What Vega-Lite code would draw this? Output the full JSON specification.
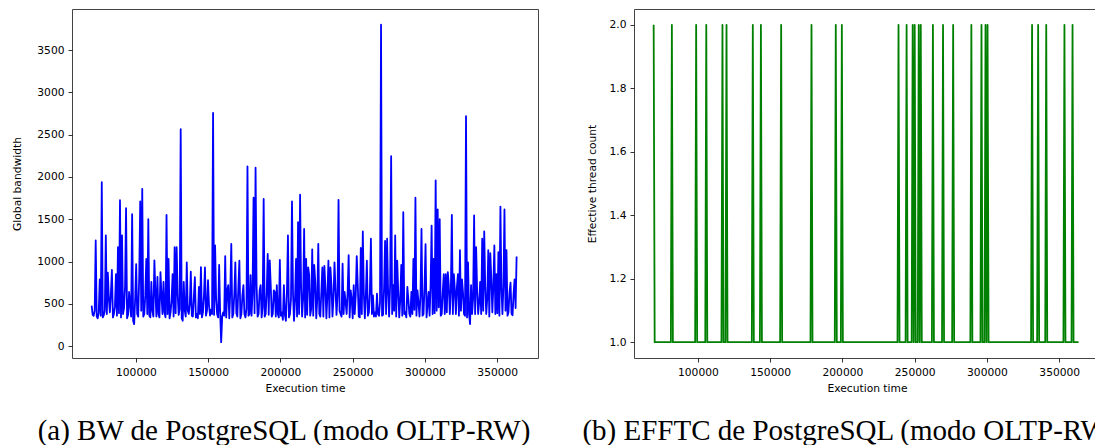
{
"$schema": "https://vega.github.io/schema/vega-lite/v6.json",
"padding": {"left": 11, "top": 8, "right": 0, "bottom": 0},
"config": {
  "view": {"stroke": "#444", "strokeWidth": 1},
  "axis": {"grid": false, "domain": false, "tickColor": "#000", "tickSize": 4, "tickWidth": 0.8, "labelFont": "DejaVu Sans", "labelFontSize": 10.7, "labelColor": "#000", "titleFont": "DejaVu Sans", "titleFontSize": 10.7, "titleFontWeight": "normal", "titleColor": "#000", "labelPadding": 4, "labelFlush": false, "labelOverlap": false},
  "title": {"font": "Liberation Serif", "fontSize": 29, "fontWeight": "normal", "color": "#000"}
},
"data": {"values": [
{"t":69400,"bw":480,"e":2},{"t":70100,"bw":370,"e":1},{"t":70800,"bw":360,"e":1},{"t":71500,"bw":420,"e":1},
{"t":72200,"bw":1250,"e":1},{"t":72900,"bw":350,"e":1},{"t":73600,"bw":330,"e":1},{"t":74300,"bw":400,"e":1},
{"t":75000,"bw":790,"e":1},{"t":75700,"bw":360,"e":1},{"t":76400,"bw":1937,"e":1},{"t":77100,"bw":340,"e":1},
{"t":77800,"bw":366,"e":1},{"t":78500,"bw":420,"e":1},{"t":79200,"bw":1310,"e":1},{"t":79900,"bw":380,"e":1},
{"t":80600,"bw":870,"e":1},{"t":81300,"bw":560,"e":1},{"t":82000,"bw":400,"e":2},{"t":82700,"bw":620,"e":1},
{"t":83400,"bw":900,"e":1},{"t":84100,"bw":340,"e":1},{"t":84800,"bw":380,"e":1},{"t":85500,"bw":470,"e":1},
{"t":86200,"bw":850,"e":1},{"t":86900,"bw":360,"e":1},{"t":87600,"bw":1170,"e":1},{"t":88300,"bw":390,"e":1},
{"t":89000,"bw":1725,"e":1},{"t":89700,"bw":340,"e":1},{"t":90400,"bw":1310,"e":1},{"t":91100,"bw":380,"e":1},
{"t":91800,"bw":450,"e":1},{"t":92500,"bw":700,"e":1},{"t":93200,"bw":1630,"e":1},{"t":93900,"bw":330,"e":1},
{"t":94600,"bw":370,"e":1},{"t":95300,"bw":640,"e":1},{"t":96000,"bw":480,"e":1},{"t":96700,"bw":350,"e":1},
{"t":97400,"bw":1560,"e":1},{"t":98100,"bw":300,"e":1},{"t":98800,"bw":260,"e":2},{"t":99500,"bw":560,"e":1},
{"t":100200,"bw":970,"e":1},{"t":100900,"bw":380,"e":1},{"t":101600,"bw":350,"e":1},{"t":102300,"bw":820,"e":1},
{"t":103000,"bw":1710,"e":1},{"t":103700,"bw":420,"e":1},{"t":104400,"bw":1860,"e":1},{"t":105100,"bw":350,"e":1},
{"t":105800,"bw":380,"e":2},{"t":106500,"bw":600,"e":1},{"t":107200,"bw":1030,"e":1},{"t":107900,"bw":380,"e":1},
{"t":108600,"bw":1500,"e":1},{"t":109300,"bw":360,"e":1},{"t":110000,"bw":340,"e":1},{"t":110700,"bw":760,"e":1},
{"t":111400,"bw":420,"e":1},{"t":112100,"bw":350,"e":1},{"t":112800,"bw":1015,"e":1},{"t":113500,"bw":640,"e":1},
{"t":114200,"bw":350,"e":1},{"t":114900,"bw":820,"e":1},{"t":115600,"bw":380,"e":1},{"t":116300,"bw":340,"e":1},
{"t":117000,"bw":875,"e":2},{"t":117700,"bw":600,"e":1},{"t":118400,"bw":380,"e":1},{"t":119100,"bw":760,"e":1},
{"t":119800,"bw":400,"e":2},{"t":120500,"bw":340,"e":1},{"t":121200,"bw":1550,"e":1},{"t":121900,"bw":380,"e":1},
{"t":122600,"bw":1030,"e":1},{"t":123300,"bw":330,"e":1},{"t":124000,"bw":400,"e":1},{"t":124700,"bw":540,"e":1},
{"t":125400,"bw":850,"e":1},{"t":126100,"bw":350,"e":1},{"t":126800,"bw":1170,"e":1},{"t":127500,"bw":390,"e":1},
{"t":128200,"bw":1170,"e":1},{"t":128900,"bw":620,"e":1},{"t":129600,"bw":370,"e":1},{"t":130300,"bw":440,"e":1},
{"t":131000,"bw":2565,"e":1},{"t":131700,"bw":330,"e":1},{"t":132400,"bw":300,"e":1},{"t":133100,"bw":760,"e":1},
{"t":133800,"bw":420,"e":1},{"t":134500,"bw":350,"e":1},{"t":135200,"bw":990,"e":1},{"t":135900,"bw":420,"e":1},
{"t":136600,"bw":380,"e":1},{"t":137300,"bw":500,"e":1},{"t":138000,"bw":880,"e":2},{"t":138700,"bw":360,"e":1},
{"t":139400,"bw":350,"e":1},{"t":140100,"bw":580,"e":1},{"t":140800,"bw":815,"e":1},{"t":141500,"bw":340,"e":1},
{"t":142200,"bw":380,"e":1},{"t":142900,"bw":330,"e":1},{"t":143600,"bw":700,"e":2},{"t":144300,"bw":380,"e":1},
{"t":145000,"bw":934,"e":1},{"t":145700,"bw":340,"e":1},{"t":146400,"bw":400,"e":1},{"t":147100,"bw":600,"e":1},
{"t":147800,"bw":930,"e":1},{"t":148500,"bw":360,"e":1},{"t":149200,"bw":420,"e":1},{"t":149900,"bw":780,"e":1},
{"t":150600,"bw":480,"e":1},{"t":151300,"bw":360,"e":1},{"t":152000,"bw":430,"e":1},{"t":152700,"bw":380,"e":1},
{"t":153400,"bw":2758,"e":1},{"t":154100,"bw":370,"e":1},{"t":154800,"bw":1190,"e":1},{"t":155500,"bw":560,"e":1},
{"t":156200,"bw":380,"e":1},{"t":156900,"bw":340,"e":1},{"t":157600,"bw":960,"e":2},{"t":158300,"bw":400,"e":1},
{"t":159000,"bw":47,"e":1},{"t":159700,"bw":350,"e":1},{"t":160400,"bw":400,"e":1},{"t":161100,"bw":360,"e":1},
{"t":161800,"bw":1065,"e":1},{"t":162500,"bw":340,"e":1},{"t":163200,"bw":660,"e":1},{"t":163900,"bw":720,"e":1},
{"t":164600,"bw":330,"e":1},{"t":165300,"bw":640,"e":1},{"t":166000,"bw":1210,"e":1},{"t":166700,"bw":340,"e":1},
{"t":167400,"bw":380,"e":1},{"t":168100,"bw":620,"e":1},{"t":168800,"bw":990,"e":1},{"t":169500,"bw":390,"e":1},
{"t":170200,"bw":350,"e":1},{"t":170900,"bw":700,"e":1},{"t":171600,"bw":1010,"e":1},{"t":172300,"bw":330,"e":1},
{"t":173000,"bw":380,"e":1},{"t":173700,"bw":600,"e":1},{"t":174400,"bw":720,"e":1},{"t":175100,"bw":380,"e":1},
{"t":175800,"bw":340,"e":1},{"t":176500,"bw":440,"e":1},{"t":177200,"bw":2125,"e":1},{"t":177900,"bw":360,"e":1},
{"t":178600,"bw":380,"e":2},{"t":179300,"bw":840,"e":1},{"t":180000,"bw":360,"e":1},{"t":180700,"bw":620,"e":1},
{"t":181400,"bw":1755,"e":1},{"t":182100,"bw":390,"e":1},{"t":182800,"bw":2110,"e":1},{"t":183500,"bw":720,"e":1},
{"t":184200,"bw":350,"e":1},{"t":184900,"bw":380,"e":1},{"t":185600,"bw":660,"e":1},{"t":186300,"bw":720,"e":1},
{"t":187000,"bw":340,"e":1},{"t":187700,"bw":460,"e":1},{"t":188400,"bw":1740,"e":1},{"t":189100,"bw":350,"e":1},
{"t":189800,"bw":380,"e":1},{"t":190500,"bw":640,"e":1},{"t":191200,"bw":1090,"e":1},{"t":191900,"bw":370,"e":1},
{"t":192600,"bw":1015,"e":1},{"t":193300,"bw":720,"e":1},{"t":194000,"bw":350,"e":1},{"t":194700,"bw":380,"e":1},
{"t":195400,"bw":660,"e":2},{"t":196100,"bw":640,"e":1},{"t":196800,"bw":350,"e":1},{"t":197500,"bw":720,"e":1},
{"t":198200,"bw":380,"e":1},{"t":198900,"bw":340,"e":1},{"t":199600,"bw":1020,"e":2},{"t":200300,"bw":360,"e":1},
{"t":201000,"bw":400,"e":1},{"t":201700,"bw":310,"e":1},{"t":202400,"bw":720,"e":1},{"t":203100,"bw":370,"e":1},
{"t":203800,"bw":300,"e":1},{"t":204500,"bw":640,"e":1},{"t":205200,"bw":1310,"e":1},{"t":205900,"bw":340,"e":1},
{"t":206600,"bw":380,"e":1},{"t":207300,"bw":560,"e":1},{"t":208000,"bw":1710,"e":1},{"t":208700,"bw":620,"e":1},
{"t":209400,"bw":300,"e":1},{"t":210100,"bw":560,"e":1},{"t":210800,"bw":1030,"e":1},{"t":211500,"bw":350,"e":1},
{"t":212200,"bw":1465,"e":1},{"t":212900,"bw":380,"e":1},{"t":213600,"bw":1790,"e":1},{"t":214300,"bw":690,"e":1},
{"t":215000,"bw":350,"e":1},{"t":215700,"bw":560,"e":1},{"t":216400,"bw":1385,"e":1},{"t":217100,"bw":340,"e":1},
{"t":217800,"bw":1030,"e":1},{"t":218500,"bw":370,"e":1},{"t":219200,"bw":930,"e":1},{"t":219900,"bw":840,"e":1},
{"t":220600,"bw":360,"e":1},{"t":221300,"bw":440,"e":1},{"t":222000,"bw":1145,"e":1},{"t":222700,"bw":360,"e":1},
{"t":223400,"bw":960,"e":1},{"t":224100,"bw":760,"e":1},{"t":224800,"bw":330,"e":1},{"t":225500,"bw":560,"e":1},
{"t":226200,"bw":1210,"e":1},{"t":226900,"bw":380,"e":1},{"t":227600,"bw":350,"e":1},{"t":228300,"bw":640,"e":1},
{"t":229000,"bw":930,"e":1},{"t":229700,"bw":350,"e":1},{"t":230400,"bw":950,"e":1},{"t":231100,"bw":700,"e":1},
{"t":231800,"bw":330,"e":1},{"t":232500,"bw":600,"e":1},{"t":233200,"bw":1010,"e":1},{"t":233900,"bw":340,"e":1},
{"t":234600,"bw":930,"e":1},{"t":235300,"bw":720,"e":1},{"t":236000,"bw":350,"e":1},{"t":236700,"bw":560,"e":1},
{"t":237400,"bw":990,"e":1},{"t":238100,"bw":680,"e":1},{"t":238800,"bw":370,"e":2},{"t":239500,"bw":600,"e":1},
{"t":240200,"bw":1730,"e":1},{"t":240900,"bw":420,"e":1},{"t":241600,"bw":380,"e":1},{"t":242300,"bw":350,"e":1},
{"t":243000,"bw":975,"e":1},{"t":243700,"bw":380,"e":1},{"t":244400,"bw":640,"e":2},{"t":245100,"bw":520,"e":1},
{"t":245800,"bw":380,"e":1},{"t":246500,"bw":640,"e":1},{"t":247200,"bw":1075,"e":1},{"t":247900,"bw":340,"e":1},
{"t":248600,"bw":660,"e":2},{"t":249300,"bw":560,"e":1},{"t":250000,"bw":330,"e":2},{"t":250700,"bw":720,"e":1},
{"t":251400,"bw":380,"e":1},{"t":252100,"bw":600,"e":1},{"t":252800,"bw":1065,"e":2},{"t":253500,"bw":720,"e":1},
{"t":254200,"bw":350,"e":2},{"t":254900,"bw":340,"e":1},{"t":255600,"bw":1160,"e":1},{"t":256300,"bw":380,"e":1},
{"t":257000,"bw":1355,"e":1},{"t":257700,"bw":620,"e":1},{"t":258400,"bw":330,"e":1},{"t":259100,"bw":600,"e":1},
{"t":259800,"bw":1010,"e":1},{"t":260500,"bw":360,"e":1},{"t":261200,"bw":400,"e":1},{"t":261900,"bw":640,"e":1},
{"t":262600,"bw":1270,"e":2},{"t":263300,"bw":380,"e":1},{"t":264000,"bw":600,"e":1},{"t":264700,"bw":350,"e":1},
{"t":265400,"bw":400,"e":1},{"t":266100,"bw":350,"e":1},{"t":266800,"bw":620,"e":1},{"t":267500,"bw":380,"e":1},
{"t":268200,"bw":360,"e":1},{"t":268900,"bw":520,"e":1},{"t":269600,"bw":3800,"e":2},{"t":270300,"bw":360,"e":1},
{"t":271000,"bw":370,"e":1},{"t":271700,"bw":680,"e":1},{"t":272400,"bw":1245,"e":1},{"t":273100,"bw":380,"e":1},
{"t":273800,"bw":1270,"e":1},{"t":274500,"bw":640,"e":1},{"t":275200,"bw":350,"e":1},{"t":275900,"bw":720,"e":1},
{"t":276600,"bw":2245,"e":2},{"t":277300,"bw":380,"e":1},{"t":278000,"bw":720,"e":1},{"t":278700,"bw":420,"e":1},
{"t":279400,"bw":1310,"e":1},{"t":280100,"bw":350,"e":1},{"t":280800,"bw":1010,"e":1},{"t":281500,"bw":640,"e":1},
{"t":282200,"bw":340,"e":1},{"t":282900,"bw":550,"e":1},{"t":283600,"bw":960,"e":1},{"t":284300,"bw":360,"e":1},
{"t":285000,"bw":1585,"e":1},{"t":285700,"bw":380,"e":1},{"t":286400,"bw":400,"e":1},{"t":287100,"bw":340,"e":1},
{"t":287800,"bw":700,"e":1},{"t":288500,"bw":560,"e":1},{"t":289200,"bw":380,"e":2},{"t":289900,"bw":350,"e":1},
{"t":290600,"bw":640,"e":1},{"t":291300,"bw":380,"e":1},{"t":292000,"bw":1030,"e":1},{"t":292700,"bw":430,"e":1},
{"t":293400,"bw":1755,"e":1},{"t":294100,"bw":360,"e":1},{"t":294800,"bw":660,"e":1},{"t":295500,"bw":520,"e":1},
{"t":296200,"bw":350,"e":2},{"t":296900,"bw":600,"e":1},{"t":297600,"bw":1385,"e":1},{"t":298300,"bw":360,"e":1},
{"t":299000,"bw":380,"e":2},{"t":299700,"bw":700,"e":1},{"t":300400,"bw":1205,"e":2},{"t":301100,"bw":340,"e":1},
{"t":301800,"bw":490,"e":1},{"t":302500,"bw":640,"e":1},{"t":303200,"bw":360,"e":1},{"t":303900,"bw":720,"e":1},
{"t":304600,"bw":1425,"e":1},{"t":305300,"bw":380,"e":1},{"t":306000,"bw":1030,"e":1},{"t":306700,"bw":390,"e":1},
{"t":307400,"bw":1960,"e":1},{"t":308100,"bw":420,"e":1},{"t":308800,"bw":1615,"e":1},{"t":309500,"bw":460,"e":1},
{"t":310200,"bw":1500,"e":1},{"t":310900,"bw":360,"e":1},{"t":311600,"bw":380,"e":1},{"t":312300,"bw":640,"e":1},
{"t":313000,"bw":850,"e":1},{"t":313700,"bw":380,"e":1},{"t":314400,"bw":850,"e":1},{"t":315100,"bw":400,"e":1},
{"t":315800,"bw":875,"e":1},{"t":316500,"bw":720,"e":1},{"t":317200,"bw":380,"e":1},{"t":317900,"bw":640,"e":1},
{"t":318600,"bw":1550,"e":1},{"t":319300,"bw":380,"e":1},{"t":320000,"bw":850,"e":1},{"t":320700,"bw":660,"e":1},
{"t":321400,"bw":380,"e":1},{"t":322100,"bw":700,"e":1},{"t":322800,"bw":850,"e":1},{"t":323500,"bw":360,"e":1},
{"t":324200,"bw":1135,"e":1},{"t":324900,"bw":420,"e":1},{"t":325600,"bw":790,"e":1},{"t":326300,"bw":640,"e":1},
{"t":327000,"bw":380,"e":1},{"t":327700,"bw":360,"e":1},{"t":328400,"bw":2720,"e":1},{"t":329100,"bw":340,"e":1},
{"t":329800,"bw":990,"e":1},{"t":330500,"bw":380,"e":1},{"t":331200,"bw":260,"e":2},{"t":331900,"bw":720,"e":1},
{"t":332600,"bw":380,"e":1},{"t":333300,"bw":560,"e":1},{"t":334000,"bw":1545,"e":1},{"t":334700,"bw":380,"e":1},
{"t":335400,"bw":1170,"e":2},{"t":336100,"bw":640,"e":1},{"t":336800,"bw":380,"e":1},{"t":337500,"bw":520,"e":1},
{"t":338200,"bw":760,"e":1},{"t":338900,"bw":380,"e":1},{"t":339600,"bw":1270,"e":1},{"t":340300,"bw":420,"e":1},
{"t":341000,"bw":1355,"e":2},{"t":341700,"bw":700,"e":1},{"t":342400,"bw":380,"e":1},{"t":343100,"bw":560,"e":1},
{"t":343800,"bw":1135,"e":1},{"t":344500,"bw":350,"e":1},{"t":345200,"bw":1100,"e":1},{"t":345900,"bw":800,"e":1},
{"t":346600,"bw":400,"e":1},{"t":347300,"bw":700,"e":1},{"t":348000,"bw":1190,"e":1},{"t":348700,"bw":380,"e":1},
{"t":349400,"bw":850,"e":1},{"t":350100,"bw":390,"e":1},{"t":350800,"bw":1110,"e":1},{"t":351500,"bw":360,"e":1},
{"t":352200,"bw":1650,"e":1},{"t":352900,"bw":680,"e":1},{"t":353600,"bw":380,"e":2},{"t":354300,"bw":720,"e":1},
{"t":355000,"bw":1615,"e":1},{"t":355700,"bw":420,"e":1},{"t":356400,"bw":1135,"e":1},{"t":357100,"bw":360,"e":1},
{"t":357800,"bw":400,"e":1},{"t":358500,"bw":640,"e":1},{"t":359200,"bw":750,"e":2},{"t":359900,"bw":380,"e":1},
{"t":360600,"bw":365,"e":1},{"t":361300,"bw":620,"e":1},{"t":362000,"bw":790,"e":1},{"t":362700,"bw":450,"e":1},
{"t":363400,"bw":1060,"e":1}
]},
"spacing": 96,
"bounds": "flush",
"hconcat": [
  {
    "width": 466, "height": 349,
    "title": {"text": "(a) BW de PostgreSQL (modo OLTP-RW)", "orient": "bottom", "anchor": "middle", "dx": -21, "offset": 24},
    "mark": {"type": "line", "color": "#0000ff", "strokeWidth": 1.8, "strokeJoin": "round"},
    "encoding": {
      "x": {"field": "t", "type": "quantitative", "scale": {"domain": [55800, 378200], "nice": false, "zero": false},
            "axis": {"values": [100000, 150000, 200000, 250000, 300000, 350000], "format": "d", "title": "Execution time", "labelPadding": 5, "titlePadding": 7}},
      "y": {"field": "bw", "type": "quantitative", "scale": {"domain": [-140, 3985], "nice": false, "zero": false},
            "axis": {"values": [0, 500, 1000, 1500, 2000, 2500, 3000, 3500], "format": "d", "title": "Global bandwidth", "titlePadding": 14}}
    }
  },
  {
    "width": 466, "height": 349,
    "title": {"text": "(b) EFFTC de PostgreSQL (modo OLTP-RW)", "orient": "bottom", "anchor": "middle", "dx": -17, "offset": 24},
    "mark": {"type": "line", "color": "#008000", "strokeWidth": 1.8, "strokeJoin": "round"},
    "encoding": {
      "x": {"field": "t", "type": "quantitative", "scale": {"domain": [55800, 378200], "nice": false, "zero": false},
            "axis": {"values": [100000, 150000, 200000, 250000, 300000, 350000], "format": "d", "title": "Execution time", "labelPadding": 5, "titlePadding": 7}},
      "y": {"field": "e", "type": "quantitative", "scale": {"domain": [0.95, 2.05], "nice": false, "zero": false},
            "axis": {"values": [1.0, 1.2, 1.4, 1.6, 1.8, 2.0], "format": ".1f", "title": "Effective thread count", "titlePadding": 12}}
    }
  }
]
}
